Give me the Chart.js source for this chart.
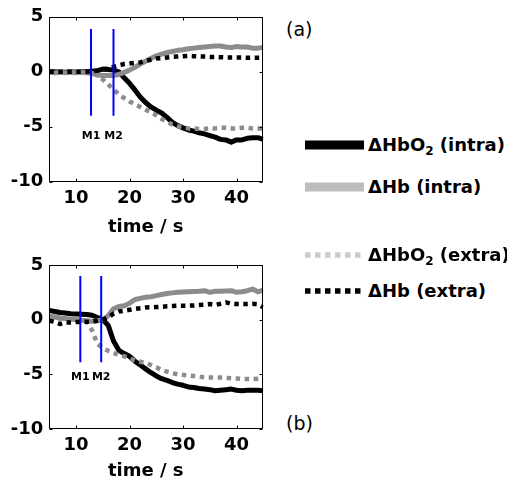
<!DOCTYPE html>
<html><head><meta charset="utf-8">
<script src="https://cdn.jsdelivr.net/npm/chart.js@4.4.1/dist/chart.umd.min.js"></script>
<style>
html,body{margin:0;padding:0;background:#fff;}
body{width:507px;height:485px;overflow:hidden;position:relative;font-family:"DejaVu Sans",sans-serif;color:#000;}
canvas{position:absolute;left:0;}
.txt{position:absolute;white-space:nowrap;font-size:18px;line-height:18px;font-weight:bold;}
.lbl{position:absolute;white-space:nowrap;font-size:19px;line-height:19px;font-weight:normal;}
.sample{position:absolute;}
sub{font-size:12px;line-height:0;vertical-align:-4px;}
</style></head><body>
<canvas id="ca" width="270" height="240" style="top:0px"></canvas>
<canvas id="cb" width="270" height="245" style="top:240px"></canvas>
<script>
// ---- data ----
const time = [5,6,7,8,9,10,11,12,13,14,15,16,17,18,19,20,21,22,23,24,25,26,27,28,29,30,31,32,33,34,35,36,37,38,39,40,41,42,43,44,45];
const xTickValues = [10,20,30,40];
const yTickValues = [-10,-5,0,5];
const seriesNames = ['ΔHbO2 (intra)','ΔHb (intra)','ΔHbO2 (extra)','ΔHb (extra)'];
const markerNames = ['M1','M2'];
const panelNames = ['(a)','(b)'];
const axisTitle = 'time / s';

// panel (a)
const hbo2IntraA = [0.0,0.0,-0.05,-0.05,0.0,-0.05,0.0,0.0,0.05,0.1, 0.25,0.2,0.15,0.0,-0.55,-1.05,-1.65,-2.3,-2.8,-3.2, -3.5,-3.75,-4.15,-4.6,-4.9,-5.1,-5.3,-5.4,-5.55,-5.65, -5.8,-5.95,-6.15,-6.2,-6.4,-6.2,-6.2,-6.05,-6.0,-6.0,-6.15];
const hbIntraA   = [-0.05,-0.1,-0.05,-0.1,-0.05,-0.1,-0.05,-0.1,-0.15,-0.3, -0.35,-0.35,-0.35,-0.25,-0.05,0.15,0.4,0.7,0.95,1.2, 1.45,1.6,1.75,1.85,1.95,2.0,2.1,2.15,2.2,2.25, 2.3,2.35,2.35,2.25,2.2,2.3,2.25,2.25,2.15,2.15,2.2];
const hbo2ExtraA = [0.0,-0.05,0.0,-0.05,0.0,-0.05,0.0,-0.05,-0.1,-0.3, -0.7,-1.15,-1.6,-2.05,-2.4,-2.7,-2.95,-3.2,-3.45,-3.7, -3.95,-4.3,-4.55,-4.8,-4.95,-5.05,-5.15,-5.15,-5.2,-5.2, -5.15,-5.15,-5.1,-5.1,-5.15,-5.15,-5.1,-5.1,-5.15,-5.15,-5.15];
const hbExtraA   = [0.0,0.0,0.0,0.0,0.0,0.0,0.0,0.0,0.05,0.1, 0.2,0.3,0.45,0.6,0.7,0.75,0.8,0.85,1.0,1.1, 1.2,1.25,1.3,1.35,1.38,1.42,1.45,1.42,1.4,1.38, 1.35,1.35,1.32,1.3,1.3,1.3,1.3,1.28,1.28,1.28,1.28];
const markersA = [12.8, 17.0];
const markerRangeA = [-4.0, 3.9];
const markerLabelYA = -5.9;

// panel (b)
const hbo2IntraB = [0.85,0.75,0.65,0.6,0.55,0.52,0.5,0.48,0.4,0.2, 0.0,-0.5,-1.95,-2.8,-3.1,-3.35,-3.8,-4.15,-4.5,-4.85, -5.15,-5.4,-5.55,-5.75,-5.9,-6.0,-6.15,-6.2,-6.3,-6.35, -6.4,-6.5,-6.45,-6.4,-6.35,-6.45,-6.5,-6.45,-6.45,-6.45,-6.5];
const hbIntraB   = [0.35,0.25,0.15,0.1,0.05,0.0,-0.05,-0.1,-0.15,-0.1, 0.0,0.35,1.0,1.2,1.28,1.5,1.85,1.95,2.05,2.1, 2.2,2.3,2.4,2.45,2.5,2.52,2.55,2.58,2.6,2.65, 2.5,2.6,2.6,2.62,2.65,2.5,2.55,2.65,2.8,2.55,2.7];
const hbo2ExtraB = [0.2,0.15,0.1,0.05,0.0,0.0,-0.05,-0.2,-1.0,-2.2, -2.6,-2.85,-3.05,-3.2,-3.35,-3.55,-3.75,-3.85,-3.95,-4.15, -4.35,-4.6,-4.75,-4.9,-5.0,-5.05,-5.1,-5.15,-5.2,-5.28, -5.28,-5.3,-5.3,-5.32,-5.35,-5.38,-5.42,-5.43,-5.43,-5.4,-5.3];
const hbExtraB   = [-0.1,-0.2,-0.4,-0.25,-0.25,-0.22,-0.2,-0.2,-0.15,-0.1, 0.0,0.2,0.55,0.75,0.82,0.9,0.98,1.05,1.12,1.13, 1.15,1.18,1.22,1.25,1.28,1.28,1.28,1.3,1.35,1.38, 1.43,1.35,1.45,1.58,1.45,1.43,1.43,1.43,1.45,1.4,1.13];
const markersB = [10.8, 14.7];
const markerRangeB = [-3.9, 4.0];
const markerLabelYB = -5.3;

// ---- styles ----
const seriesStyle = [
  {color:'#000000', width:5, dash:[], order:4, legendColor:'#000000', legendDash:[]},
  {color:'#8c8c8c', width:5, dash:[], order:3, legendColor:'#bdbdbd', legendDash:[]},
  {color:'#8c8c8c', width:4.5, dash:[4.5,4.5], order:2, legendColor:'#cbcbcb', legendDash:[5.5,4.5]},
  {color:'#000000', width:4.5, dash:[4.5,4.5], order:1, legendColor:'#000000', legendDash:[5.5,4.5]}
];
const FONT = '"DejaVu Sans", sans-serif';

const framePlugin = {
  id: 'frame',
  afterDraw(chart, args, opts) {
    const {ctx, chartArea: a, scales} = chart;
    const x = scales.x, y = scales.y;
    ctx.save();
    ctx.strokeStyle = '#000';
    ctx.lineWidth = 1;
    ctx.beginPath();
    const L = Math.round(a.left)+0.5, R = Math.round(a.right)-0.5, T = Math.round(a.top)+0.5, B = Math.round(a.bottom)-0.5;
    ctx.rect(L, T, R-L, B-T);
    const tl = 3;
    x.ticks.forEach(t => {
      const px = Math.round(x.getPixelForValue(t.value))+0.5;
      ctx.moveTo(px, B); ctx.lineTo(px, B-tl);
      ctx.moveTo(px, T); ctx.lineTo(px, T+tl);
    });
    y.ticks.forEach(t => {
      const py = Math.round(y.getPixelForValue(t.value))+0.5;
      ctx.moveTo(L, py); ctx.lineTo(L+tl, py);
      ctx.moveTo(R, py); ctx.lineTo(R-tl, py);
    });
    ctx.stroke();
    ctx.font = 'bold 11px ' + FONT;
    ctx.textAlign = 'center';
    ctx.textBaseline = 'middle';
    ctx.fillStyle = '#000';
    opts.times.forEach((t, i) => {
      ctx.fillText(opts.names[i], x.getPixelForValue(t), y.getPixelForValue(opts.labelY));
    });
    ctx.restore();
  }
};

function makeChart(id, series, markers, markerRange, labelY, padTop, xAxisH) {
  const datasets = [];
  markers.forEach((m, i) => {
    datasets.push({label: markerNames[i], data: [{x:m, y:markerRange[0]},{x:m, y:markerRange[1]}],
      borderColor:'#0000ff', borderWidth:2, pointRadius:0, order:0, borderCapStyle:'butt'});
  });
  series.forEach((vals, i) => {
    const st = seriesStyle[i];
    datasets.push({label: seriesNames[i], data: time.map((t, k) => ({x:t, y:vals[k]})),
      borderColor: st.color, borderWidth: st.width, borderDash: st.dash, borderCapStyle:'butt',
      borderJoinStyle:'round', pointRadius:0, tension:0, order: st.order});
  });
  return new Chart(document.getElementById(id), {
    type: 'line',
    data: {datasets},
    plugins: [framePlugin],
    options: {
      responsive: false, animation: false, devicePixelRatio: 1,
      layout: {padding: {top: padTop, right: 270-263.3, left: 0, bottom: 0}},
      plugins: {legend: {display:false}, tooltip: {enabled:false},
        frame: {times: markers, names: markerNames, labelY: labelY}},
      scales: {
        x: {type:'linear', min:5, max:45,
          afterBuildTicks: s => { s.ticks = xTickValues.map(v => ({value:v})); },
          afterFit: s => { s.height = xAxisH; },
          grid: {display:false, drawTicks:false}, border: {display:false},
          ticks: {padding: 6, color:'#000', font: {family: FONT, size: 18, weight:'bold', lineHeight:1.2}, maxRotation:0}},
        y: {type:'linear', min:-10, max:5,
          afterBuildTicks: s => { s.ticks = yTickValues.map(v => ({value:v})); },
          afterFit: s => { s.width = 49.3; },
          grid: {display:false, drawTicks:false}, border: {display:false},
          ticks: {padding: 6, color:'#000', font: {family: FONT, size: 18, weight:'bold', lineHeight:1.2}}}
      }
    }
  });
}

makeChart('ca', [hbo2IntraA, hbIntraA, hbo2ExtraA, hbExtraA], markersA, markerRangeA, markerLabelYA, 15, 58.3);
makeChart('cb', [hbo2IntraB, hbIntraB, hbo2ExtraB, hbExtraB], markersB, markerRangeB, markerLabelYB, 25, 56);

// ---- HTML texts: axis titles, panel labels, legend ----
function addDiv(cls, left, top, html) {
  const d = document.createElement('div');
  d.className = cls; d.style.left = left + 'px'; d.style.top = top + 'px';
  d.innerHTML = html; document.body.appendChild(d); return d;
}
function centerDiv(d, cx) { d.style.left = (cx - d.offsetWidth/2) + 'px'; }
centerDiv(addDiv('txt', 0, 217, axisTitle), 146);
centerDiv(addDiv('txt', 0, 461, axisTitle), 146);
addDiv('lbl', 286, 20, panelNames[0]);
addDiv('lbl', 286, 414, panelNames[1]);

const legendRows = [145, 187, 255, 291];
seriesNames.forEach((name, i) => {
  const st = seriesStyle[i];
  const cy = legendRows[i];
  const c = document.createElement('canvas');
  c.width = 60; c.height = 12; c.className = 'sample';
  c.style.left = '304px'; c.style.top = (cy - 6) + 'px';
  document.body.appendChild(c);
  const g = c.getContext('2d');
  g.strokeStyle = st.legendColor; g.lineWidth = st.legendDash.length ? 5.5 : 9;
  g.setLineDash(st.legendDash); g.lineCap = 'butt';
  g.beginPath(); g.moveTo(1, 6); g.lineTo(60, 6); g.stroke();
  addDiv('txt', 368, cy - 9, name.replace('O2', 'O<sub>2</sub>'));
});
</script>
</body></html>
